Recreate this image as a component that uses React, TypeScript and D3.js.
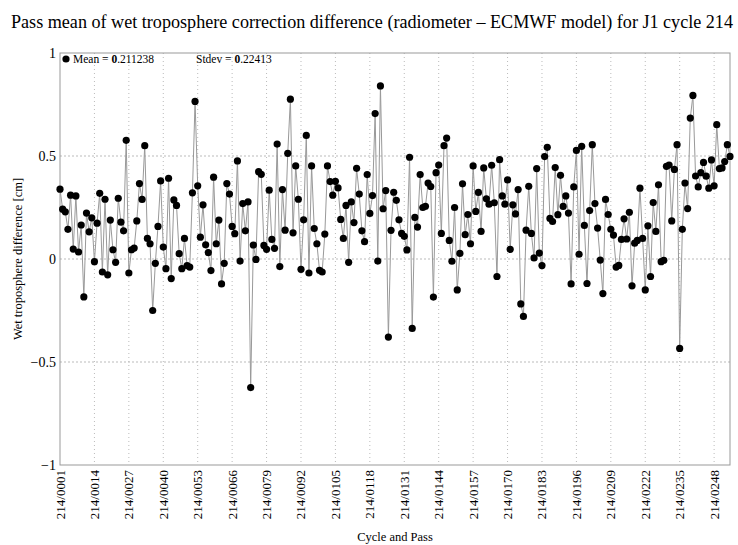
import React from "react";
import * as d3 from "d3";

// pass mean values [cm], passes 1..254
const passes001to050 = [
  0.339, 0.242, 0.229, 0.144, 0.31, 0.048, 0.306, 0.034, 0.165, -0.184,
  0.223, 0.132, 0.2, -0.013, 0.174, 0.319, -0.063, 0.29, -0.077, 0.189,
  0.045, -0.016, 0.295, 0.179, 0.137, 0.576, -0.068, 0.045, 0.053, 0.185,
  0.366, 0.289, 0.55, 0.1, 0.074, -0.25, -0.021, 0.158, 0.379, 0.058,
  -0.047, 0.392, -0.095, 0.287, 0.26, 0.026, -0.047, 0.1, -0.032, -0.039,
];
const passes051to100 = [
  0.321, 0.765, 0.355, 0.106, 0.263, 0.069, 0.031, -0.056, 0.397, 0.074,
  0.189, -0.121, -0.021, 0.366, 0.315, 0.158, 0.123, 0.476, -0.01, 0.269,
  0.137, 0.277, -0.624, 0.068, -0.002, 0.424, 0.411, 0.066, 0.047, 0.334,
  0.095, 0.052, 0.558, -0.037, 0.337, 0.14, 0.513, 0.776, 0.127, 0.452,
  0.29, -0.05, 0.19, 0.6, -0.068, 0.452, 0.148, 0.074, -0.055, -0.063,
];
const passes101to150 = [
  0.121, 0.452, 0.376, 0.31, 0.377, 0.345, 0.192, 0.1, 0.26, -0.016,
  0.277, 0.177, 0.44, 0.315, 0.137, 0.084, 0.41, 0.221, 0.308, 0.706,
  -0.01, 0.84, 0.244, 0.332, -0.379, 0.139, 0.324, 0.285, 0.19, 0.124,
  0.11, 0.044, 0.494, -0.337, 0.202, 0.155, 0.41, 0.25, 0.256, 0.369,
  0.352, -0.185, 0.419, 0.456, 0.124, 0.55, 0.587, 0.09, -0.011, 0.25,
];
const passes151to200 = [
  -0.15, 0.027, 0.365, 0.118, 0.216, 0.074, 0.452, 0.231, 0.323, 0.134,
  0.442, 0.292, 0.266, 0.455, 0.273, -0.085, 0.482, 0.306, 0.266, 0.384,
  0.047, 0.263, 0.219, 0.337, -0.218, -0.279, 0.14, 0.353, 0.124, 0.005,
  0.439, 0.029, -0.032, 0.497, 0.542, 0.197, 0.182, 0.444, 0.215, 0.406,
  0.255, 0.306, 0.223, -0.121, 0.35, 0.527, 0.023, 0.547, 0.163, -0.119,
];
const passes201to254 = [
  0.235, 0.555, 0.269, 0.15, -0.005, -0.168, 0.289, 0.216, 0.144, 0.116,
  -0.039, -0.031, 0.095, 0.195, 0.097, 0.227, -0.13, 0.077, 0.09, 0.344,
  0.1, -0.15, 0.161, -0.085, 0.274, 0.134, 0.36, -0.013, -0.006, 0.45,
  0.456, 0.185, 0.435, 0.555, -0.434, 0.144, 0.369, 0.245, 0.684, 0.794,
  0.403, 0.35, 0.419, 0.469, 0.402, 0.344, 0.481, 0.355, 0.652, 0.439,
  0.442, 0.473, 0.555, 0.498,
];

const tickPasses = [1, 14, 27, 40, 53, 66, 79, 92, 105, 118, 131, 144, 157, 170, 183, 196, 209, 222, 235, 248];
const tickLabels = [
  "214/0001", "214/0014", "214/0027", "214/0040", "214/0053", "214/0066", "214/0079",
  "214/0092", "214/0105", "214/0118", "214/0131", "214/0144", "214/0157", "214/0170",
  "214/0183", "214/0196", "214/0209", "214/0222", "214/0235", "214/0248",
];
const yTicks = [-1, -0.5, 0, 0.5, 1];
const yTickLabels = ["\u22121", "\u22120.5", "0", "0.5", "1"];

const values = [
  ...passes001to050,
  ...passes051to100,
  ...passes101to150,
  ...passes151to200,
  ...passes201to254,
];

const W = 738, H = 545;
const left = 60, right = 730, top = 53, bottom = 465;

export default function App() {
  const x = d3.scaleLinear().domain([1, values.length]).range([left, right]);
  const y = d3.scaleLinear().domain([-1, 1]).range([bottom, top]);
  const line = d3
    .line<number>()
    .x((_, i) => x(i + 1))
    .y((d) => y(d));

  return (
    <svg
      width={W}
      height={H}
      style={{ position: "absolute", left: 0, top: 0, fontFamily: '"Liberation Serif", "DejaVu Serif", serif' }}
    >
      <rect width={W} height={H} fill="#fff" />
      <text x={372} y={28} textAnchor="middle" fontSize={18} textLength={722} lengthAdjust="spacingAndGlyphs">
        Pass mean of wet troposphere correction difference (radiometer – ECMWF model) for J1 cycle 214
      </text>

      {/* grid */}
      {tickPasses.slice(1).map((p) => (
        <line key={p} x1={x(p)} x2={x(p)} y1={top} y2={bottom} stroke="#bbb" strokeDasharray="1,3" />
      ))}
      {[-0.5, 0, 0.5].map((v) => (
        <line key={v} x1={left} x2={right} y1={y(v)} y2={y(v)} stroke="#bbb" strokeDasharray="2,2" />
      ))}
      <rect x={left} y={top} width={right - left} height={bottom - top} fill="none" stroke="#999" />

      {/* y axis */}
      {yTicks.map((v, i) => (
        <text key={v} x={left - 4} y={y(v) + 5} textAnchor="end" fontSize={14}>
          {yTickLabels[i]}
        </text>
      ))}
      <text transform={`translate(22,${(top + bottom) / 2}) rotate(-90)`} textAnchor="middle" fontSize={12.5}>
        Wet troposphere difference [cm]
      </text>

      {/* x axis */}
      {tickPasses.map((p, i) => (
        <text
          key={p}
          transform={`translate(${x(p) + 4.5},${bottom + 5}) rotate(-90)`}
          textAnchor="end"
          fontSize={13}
        >
          {tickLabels[i]}
        </text>
      ))}
      <text x={(left + right) / 2} y={541} textAnchor="middle" fontSize={12.5}>
        Cycle and Pass
      </text>

      {/* series */}
      <path d={line(values) ?? ""} fill="none" stroke="#999" strokeWidth={1} />
      {values.map((v, i) => (
        <circle key={i} cx={x(i + 1)} cy={y(v)} r={3.6} fill="#000" />
      ))}

      {/* legend */}
      <circle cx={66} cy={59} r={3.6} fill="#000" />
      <text x={73} y={63} fontSize={11.5}>
        Mean = <tspan fontWeight="bold">0</tspan>.211238
      </text>
      <text x={196} y={63} fontSize={11.5}>
        Stdev = <tspan fontWeight="bold">0</tspan>.22413
      </text>
    </svg>
  );
}
